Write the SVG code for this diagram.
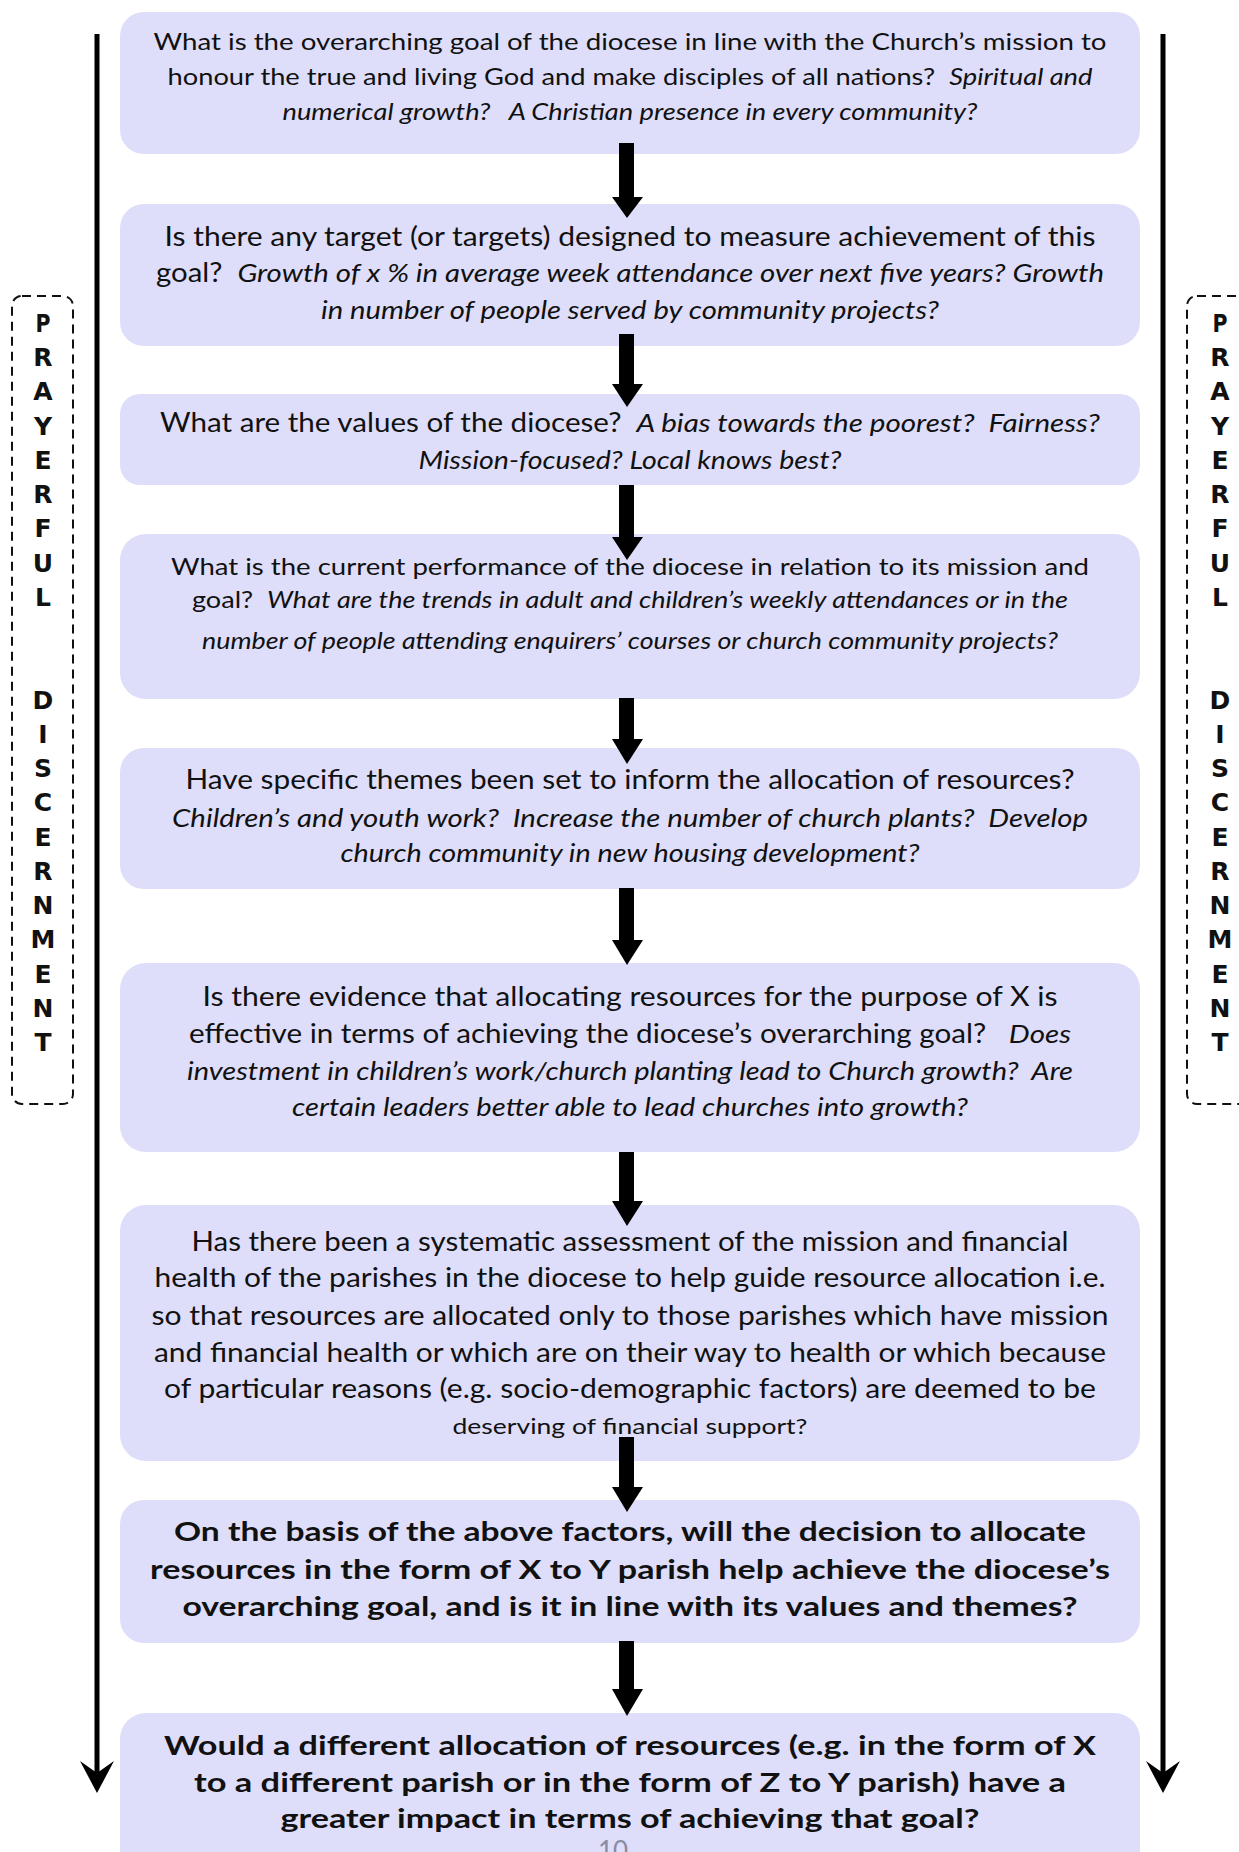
<svg xmlns="http://www.w3.org/2000/svg" width="1239" height="1852" viewBox="0 0 1239 1852" xml:space="preserve">
<style>
.box{fill:#dedefb}
.t{font-family:Lato,"Liberation Sans",sans-serif;font-size:26px;fill:#111;text-anchor:middle;white-space:pre}
.s{font-size:24px}
.xs{font-size:22px}
.i{font-style:italic}
.b{font-weight:bold;font-size:27px}
.side{font-family:"DejaVu Sans",sans-serif;font-weight:bold;font-size:25px;fill:#111;text-anchor:middle}
.dash{fill:none;stroke:#111;stroke-width:2;stroke-dasharray:9 6}
.vline{stroke:#000;stroke-width:5;fill:none}
.blk{fill:#000}
.pg{font-family:Lato,"Liberation Sans",sans-serif;font-size:26px;fill:#8a8aa2;text-anchor:middle}
</style>
<defs>
<marker id="stealth" markerUnits="userSpaceOnUse" markerWidth="40" markerHeight="40" viewBox="-20 -4 40 40" refX="0" refY="0" orient="0" overflow="visible">
<path d="M0,20 L-17,-12 L0,0 L17,-12 Z" fill="#000"/>
</marker>
</defs>

<g id="side-left">
<rect class="dash" x="12" y="296" width="61" height="808" rx="10"/>
<text class="side" x="43" y="332" textLength="15" lengthAdjust="spacingAndGlyphs">P</text>
<text class="side" x="43" y="366">R</text>
<text class="side" x="43" y="400">A</text>
<text class="side" x="43" y="435">Y</text>
<text class="side" x="43" y="469">E</text>
<text class="side" x="43" y="503">R</text>
<text class="side" x="43" y="537">F</text>
<text class="side" x="43" y="572">U</text>
<text class="side" x="43" y="606">L</text>
<text class="side" x="43" y="709">D</text>
<text class="side" x="43" y="743">I</text>
<text class="side" x="43" y="777">S</text>
<text class="side" x="43" y="811">C</text>
<text class="side" x="43" y="846">E</text>
<text class="side" x="43" y="880">R</text>
<text class="side" x="43" y="914">N</text>
<text class="side" x="43" y="948">M</text>
<text class="side" x="43" y="983">E</text>
<text class="side" x="43" y="1017">N</text>
<text class="side" x="43" y="1051">T</text>
</g>

<g id="side-right">
<rect class="dash" x="1187" y="296" width="70" height="808" rx="10"/>
<text class="side" x="1220" y="332" textLength="15" lengthAdjust="spacingAndGlyphs">P</text>
<text class="side" x="1220" y="366">R</text>
<text class="side" x="1220" y="400">A</text>
<text class="side" x="1220" y="435">Y</text>
<text class="side" x="1220" y="469">E</text>
<text class="side" x="1220" y="503">R</text>
<text class="side" x="1220" y="537">F</text>
<text class="side" x="1220" y="572">U</text>
<text class="side" x="1220" y="606">L</text>
<text class="side" x="1220" y="709">D</text>
<text class="side" x="1220" y="743">I</text>
<text class="side" x="1220" y="777">S</text>
<text class="side" x="1220" y="811">C</text>
<text class="side" x="1220" y="846">E</text>
<text class="side" x="1220" y="880">R</text>
<text class="side" x="1220" y="914">N</text>
<text class="side" x="1220" y="948">M</text>
<text class="side" x="1220" y="983">E</text>
<text class="side" x="1220" y="1017">N</text>
<text class="side" x="1220" y="1051">T</text>
</g>

<g id="n1">
<rect class="box" x="120" y="12" width="1020" height="142" rx="24"/>
<text class="t s" x="630" y="50" textLength="953" lengthAdjust="spacingAndGlyphs">What is the overarching goal of the diocese in line with the Church’s mission to</text>
<text class="t s" x="630" y="85" textLength="925" lengthAdjust="spacingAndGlyphs">honour the true and living God and make disciples of all nations?  <tspan class="i">Spiritual and</tspan></text>
<text class="t s i" x="630" y="120" textLength="695" lengthAdjust="spacingAndGlyphs">numerical growth?   A Christian presence in every community?</text>
</g>

<g id="n2">
<rect class="box" x="120" y="204" width="1020" height="142" rx="24"/>
<text class="t" x="630" y="246" textLength="931" lengthAdjust="spacingAndGlyphs">Is there any target (or targets) designed to measure achievement of this</text>
<text class="t" x="630" y="282" textLength="948" lengthAdjust="spacingAndGlyphs">goal?  <tspan class="i">Growth of x % in average week attendance over next five years? Growth</tspan></text>
<text class="t i" x="630" y="319" textLength="618" lengthAdjust="spacingAndGlyphs">in number of people served by community projects?</text>
</g>

<g id="n3">
<rect class="box" x="120" y="394" width="1020" height="91" rx="20"/>
<text class="t" x="630" y="432" textLength="940" lengthAdjust="spacingAndGlyphs">What are the values of the diocese?  <tspan class="i">A bias towards the poorest?  Fairness?</tspan></text>
<text class="t i" x="630" y="469" textLength="423" lengthAdjust="spacingAndGlyphs">Mission-focused? Local knows best?</text>
</g>

<g id="n4">
<rect class="box" x="120" y="534" width="1020" height="165" rx="26"/>
<text class="t s" x="630" y="575" textLength="918" lengthAdjust="spacingAndGlyphs">What is the current performance of the diocese in relation to its mission and</text>
<text class="t s" x="630" y="608" textLength="876" lengthAdjust="spacingAndGlyphs">goal?  <tspan class="i">What are the trends in adult and children’s weekly attendances or in the</tspan></text>
<text class="t s i" x="630" y="649" textLength="856" lengthAdjust="spacingAndGlyphs">number of people attending enquirers’ courses or church community projects?</text>
</g>

<g id="n5">
<rect class="box" x="120" y="748" width="1020" height="141" rx="24"/>
<text class="t" x="630" y="789" textLength="889" lengthAdjust="spacingAndGlyphs">Have specific themes been set to inform the allocation of resources?</text>
<text class="t i" x="630" y="827" textLength="916" lengthAdjust="spacingAndGlyphs">Children’s and youth work?  Increase the number of church plants?  Develop</text>
<text class="t i" x="630" y="862" textLength="579" lengthAdjust="spacingAndGlyphs">church community in new housing development?</text>
</g>

<g id="n6">
<rect class="box" x="120" y="963" width="1020" height="189" rx="26"/>
<text class="t" x="630" y="1006" textLength="855" lengthAdjust="spacingAndGlyphs">Is there evidence that allocating resources for the purpose of X is</text>
<text class="t" x="630" y="1043" textLength="882" lengthAdjust="spacingAndGlyphs">effective in terms of achieving the diocese’s overarching goal?   <tspan class="i">Does</tspan></text>
<text class="t i" x="630" y="1080" textLength="886" lengthAdjust="spacingAndGlyphs">investment in children’s work/church planting lead to Church growth?  Are</text>
<text class="t i" x="630" y="1116" textLength="676" lengthAdjust="spacingAndGlyphs">certain leaders better able to lead churches into growth?</text>
</g>

<g id="n7">
<rect class="box" x="120" y="1205" width="1020" height="256" rx="26"/>
<text class="t" x="630" y="1251" textLength="877" lengthAdjust="spacingAndGlyphs">Has there been a systematic assessment of the mission and financial</text>
<text class="t" x="630" y="1287" textLength="951" lengthAdjust="spacingAndGlyphs">health of the parishes in the diocese to help guide resource allocation i.e.</text>
<text class="t" x="630" y="1325" textLength="957" lengthAdjust="spacingAndGlyphs">so that resources are allocated only to those parishes which have mission</text>
<text class="t" x="630" y="1362" textLength="952" lengthAdjust="spacingAndGlyphs">and financial health or which are on their way to health or which because</text>
<text class="t" x="630" y="1398" textLength="932" lengthAdjust="spacingAndGlyphs">of particular reasons (e.g. socio-demographic factors) are deemed to be</text>
<text class="t xs" x="630" y="1434" textLength="355" lengthAdjust="spacingAndGlyphs">deserving of financial support?</text>
</g>

<g id="n8">
<rect class="box" x="120" y="1500" width="1020" height="143" rx="24"/>
<text class="t b" x="630" y="1541" textLength="912" lengthAdjust="spacingAndGlyphs">On the basis of the above factors, will the decision to allocate</text>
<text class="t b" x="630" y="1579" textLength="960" lengthAdjust="spacingAndGlyphs">resources in the form of X to Y parish help achieve the diocese’s</text>
<text class="t b" x="630" y="1616" textLength="895" lengthAdjust="spacingAndGlyphs">overarching goal, and is it in line with its values and themes?</text>
</g>

<g id="n9">
<rect class="box" x="120" y="1713" width="1020" height="170" rx="26"/>
<text class="t b" x="630" y="1755" textLength="932" lengthAdjust="spacingAndGlyphs">Would a different allocation of resources (e.g. in the form of X</text>
<text class="t b" x="630" y="1792" textLength="872" lengthAdjust="spacingAndGlyphs">to a different parish or in the form of Z to Y parish) have a</text>
<text class="t b" x="630" y="1828" textLength="699" lengthAdjust="spacingAndGlyphs">greater impact in terms of achieving that goal?</text>
</g>

<g id="connectors">
<path class="blk" d="M619,143 H634 V197 H643 L627,218 L612,197 H619 Z"/>
<path class="blk" d="M619,334 H634 V384 H643 L627,407 L612,384 H619 Z"/>
<path class="blk" d="M619,485 H634 V537 H643 L627,560 L612,537 H619 Z"/>
<path class="blk" d="M619,698 H634 V739 H643 L627,764 L612,739 H619 Z"/>
<path class="blk" d="M619,888 H634 V940 H643 L627,965 L612,940 H619 Z"/>
<path class="blk" d="M619,1152 H634 V1201 H643 L627,1226 L612,1201 H619 Z"/>
<path class="blk" d="M619,1437 H634 V1487 H643 L627,1512 L612,1487 H619 Z"/>
<path class="blk" d="M619,1641 H634 V1689 H643 L627,1716 L612,1689 H619 Z"/>
<line class="vline" x1="97" y1="34" x2="97" y2="1773" marker-end="url(#stealth)"/>
<line class="vline" x1="1163" y1="34" x2="1163" y2="1773" marker-end="url(#stealth)"/>
</g>

<text class="pg" x="613" y="1860">10</text>
</svg>
